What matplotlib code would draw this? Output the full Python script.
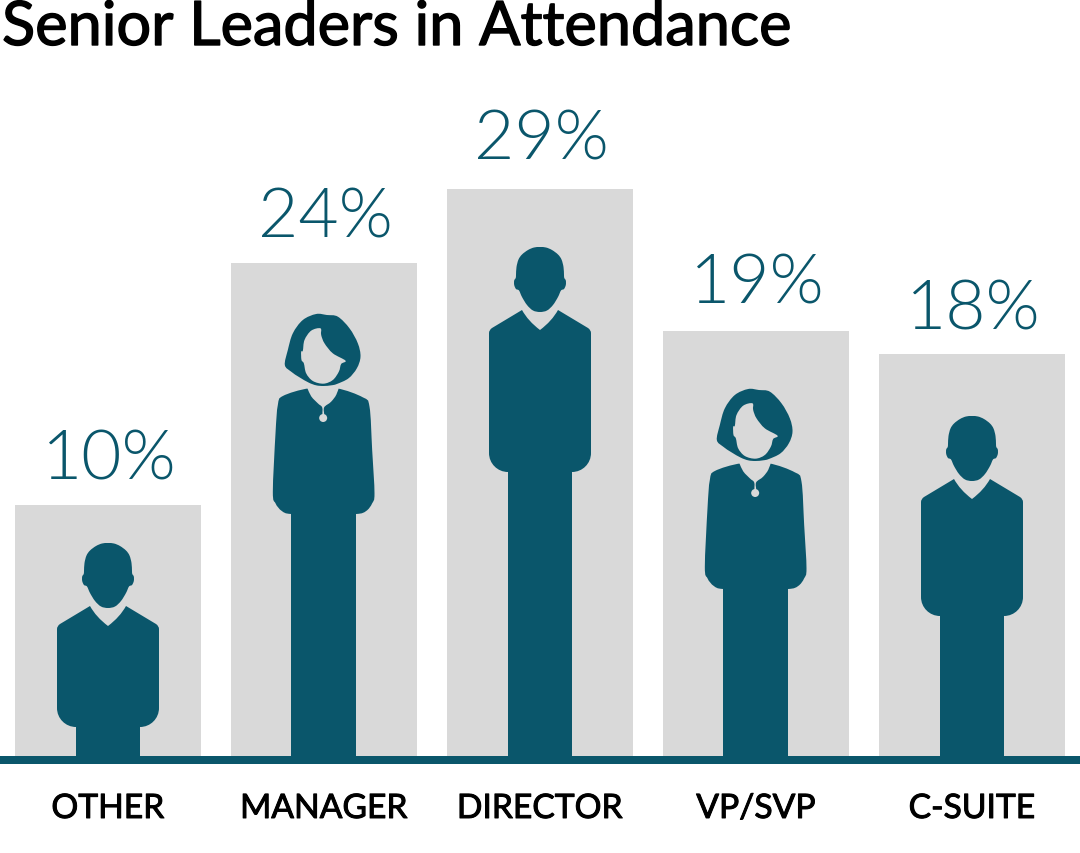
import numpy as np
import matplotlib
matplotlib.use('Agg')
import matplotlib.pyplot as plt
import matplotlib.patheffects as pe
from matplotlib.path import Path
from matplotlib.patches import PathPatch, Circle

categories = ['OTHER', 'MANAGER', 'DIRECTOR', 'VP/SVP', 'C-SUITE']
percent_labels = ['10%', '24%', '29%', '19%', '18%']
# drawn bar heights, they are not proportional to the labels in the original
bar_heights = [251, 493, 567, 425, 402]

TEAL = '#0a566b'
GREY = '#d9d9d9'
BASE = 757  # pixel row of the bar bottoms

# figure kind, head top (pixels from bar bottom), torso length
people = [('man', 213, 184), ('woman', 442, 200), ('man', 509, 225),
          ('woman', 367, 200), ('man', 340, 200)]

# outlines, x from centre, y down from top of head
HEAD_R = [(0, 0), (6, 0.5), (12, 3), (18, 7.5), (21.5, 12.5), (23.5, 20), (24, 28), (24.3, 31), (25.8, 33.5),
          (25.8, 38), (24, 42), (21, 43.5), (18, 50), (13, 58), (7, 63.5)]
HEAD = HEAD_R + [(0, 65)] + [(-a, b) for a, b in HEAD_R[:0:-1]]
HAIR = [(232, 45), (265, 50), (300, 85), (325, 130), (333, 170), (322, 205), (297, 235), (262, 252),
        (245, 256), (222, 258), (200, 256), (178, 248), (150, 232), (125, 215), (106, 195), (115, 150), (130, 100),
        (160, 60), (200, 42)]
FACE = [(213, 85), (185, 92), (165, 120), (160, 152), (155, 155), (156, 180), (163, 190), (170, 220), (190, 243),
        (222, 251), (250, 240), (268, 215), (275, 192), (288, 182), (250, 160), (225, 130), (215, 105)]
NECK = [(178, 250), (183, 285), (205, 310), (218, 322), (219, 345), (224, 345), (224, 322), (245, 305),
        (262, 280), (262, 250)]
WOMAN = [(178, 265), (100, 288), (85, 315), (78, 400), (70, 575), (78, 610), (97, 633), (125, 642), (222, 642),
         (320, 642), (350, 633), (368, 610), (375, 580), (368, 450), (360, 320), (340, 292), (262, 265)]


def smooth(points):
    # closed catmull-rom outline as bezier path
    p = np.array(points, dtype=float)
    n = len(p)
    verts = [p[0]]
    codes = [Path.MOVETO]
    for i in range(n):
        p0, p1, p2, p3 = p[i - 1], p[i], p[(i + 1) % n], p[(i + 2) % n]
        verts += [p1 + (p2 - p0) / 6, p2 - (p3 - p1) / 6, p2]
        codes += [Path.CURVE4] * 3
    return Path(verts, codes)


def trace(points, cx, top):
    # zoomed crop coordinates to pixel rows
    return [(cx + (x - 222) / 3, BASE - (top + (y - 42) / 3)) for x, y in points]


def draw_man(ax, cx, top, t):
    tx = lambda x, y: (cx + x, BASE - (top + y))
    ax.add_patch(PathPatch(smooth([tx(x, y) for x, y in HEAD]), fc=TEAL, ec='none', zorder=3))
    pts = [(18, 63, 1), (48, 81, 2), (51, 83, 3), (51, 86, 3), (51, t - 19, 2), (51, t - 8.5, 4), (42.5, t, 4), (32, t, 4),
           (32, BASE - top, 2), (-32, BASE - top, 2), (-32, t, 2), (-42.5, t, 4), (-51, t - 8.5, 4), (-51, t - 19, 4),
           (-51, 86, 2), (-51, 83, 3), (-48, 81, 3), (-18, 63, 2), (-12, 74, 3), (0, 83, 3),
           (12, 74, 3), (18, 63, 3)]
    verts = [tx(x, y) for x, y, c in pts]
    codes = [{1: Path.MOVETO, 2: Path.LINETO, 3: Path.CURVE3, 4: Path.CURVE4}[c] for x, y, c in pts]
    ax.add_patch(PathPatch(Path(verts, codes), fc=TEAL, ec='none', zorder=3))


def draw_woman(ax, cx, top):
    ax.add_patch(PathPatch(smooth(trace(WOMAN, cx, top)), fc=TEAL, ec='none', zorder=3))
    ax.bar(cx, BASE - (top + 190), width=65, color=TEAL, zorder=3)
    ax.add_patch(PathPatch(smooth(trace(NECK, cx, top)), fc=GREY, ec='none', zorder=4))
    px, py = trace([(221, 354)], cx, top)[0]
    ax.add_patch(Circle((px, py), 4, fc=GREY, ec='none', zorder=4))
    ax.add_patch(PathPatch(smooth(trace(HAIR, cx, top)), fc=TEAL, ec='none', zorder=5))
    ax.add_patch(PathPatch(smooth(trace(FACE, cx, top)), fc=GREY, ec='none', zorder=6))


fig = plt.figure(figsize=(10.8, 8.54), dpi=100)
ax = fig.add_axes([0, 0, 1, 1])
ax.set_xlim(0, 1080)
ax.set_ylim(BASE - 854, BASE)
ax.axis('off')

x = np.arange(5) * 216 + 108
ax.bar(x, bar_heights, width=186, color=GREY, zorder=1)
ax.axhline(-4, color=TEAL, lw=5.76, zorder=7)

for i, (kind, h, t) in enumerate(people):
    top = BASE - h
    if kind == 'man':
        draw_man(ax, x[i], top, t)
    else:
        draw_woman(ax, x[i] - 0.5, top)

# percent labels, baseline rows follow the original
percent_base = [277, 520, 597, 453, 427]
for i, lab in enumerate(percent_labels):
    ax.text(x[i] + 1, percent_base[i], lab, ha='center', va='baseline', family='Lato', weight=300,
            fontsize=50, color=TEAL)
for i, lab in enumerate(categories):
    ax.text(x[i], -62, lab, ha='center', va='baseline', family='Lato', weight=400, fontsize=24.2, color='black',
            path_effects=[pe.withStroke(linewidth=0.7, foreground='black')])

ax.text(2, BASE - 46, 'Senior Leaders in Attendance', ha='left', va='baseline', family='Lato', weight=400,
        fontsize=44.1, color='black', path_effects=[pe.withStroke(linewidth=1.0, foreground='black')])

fig.savefig('out.png', dpi=100)
